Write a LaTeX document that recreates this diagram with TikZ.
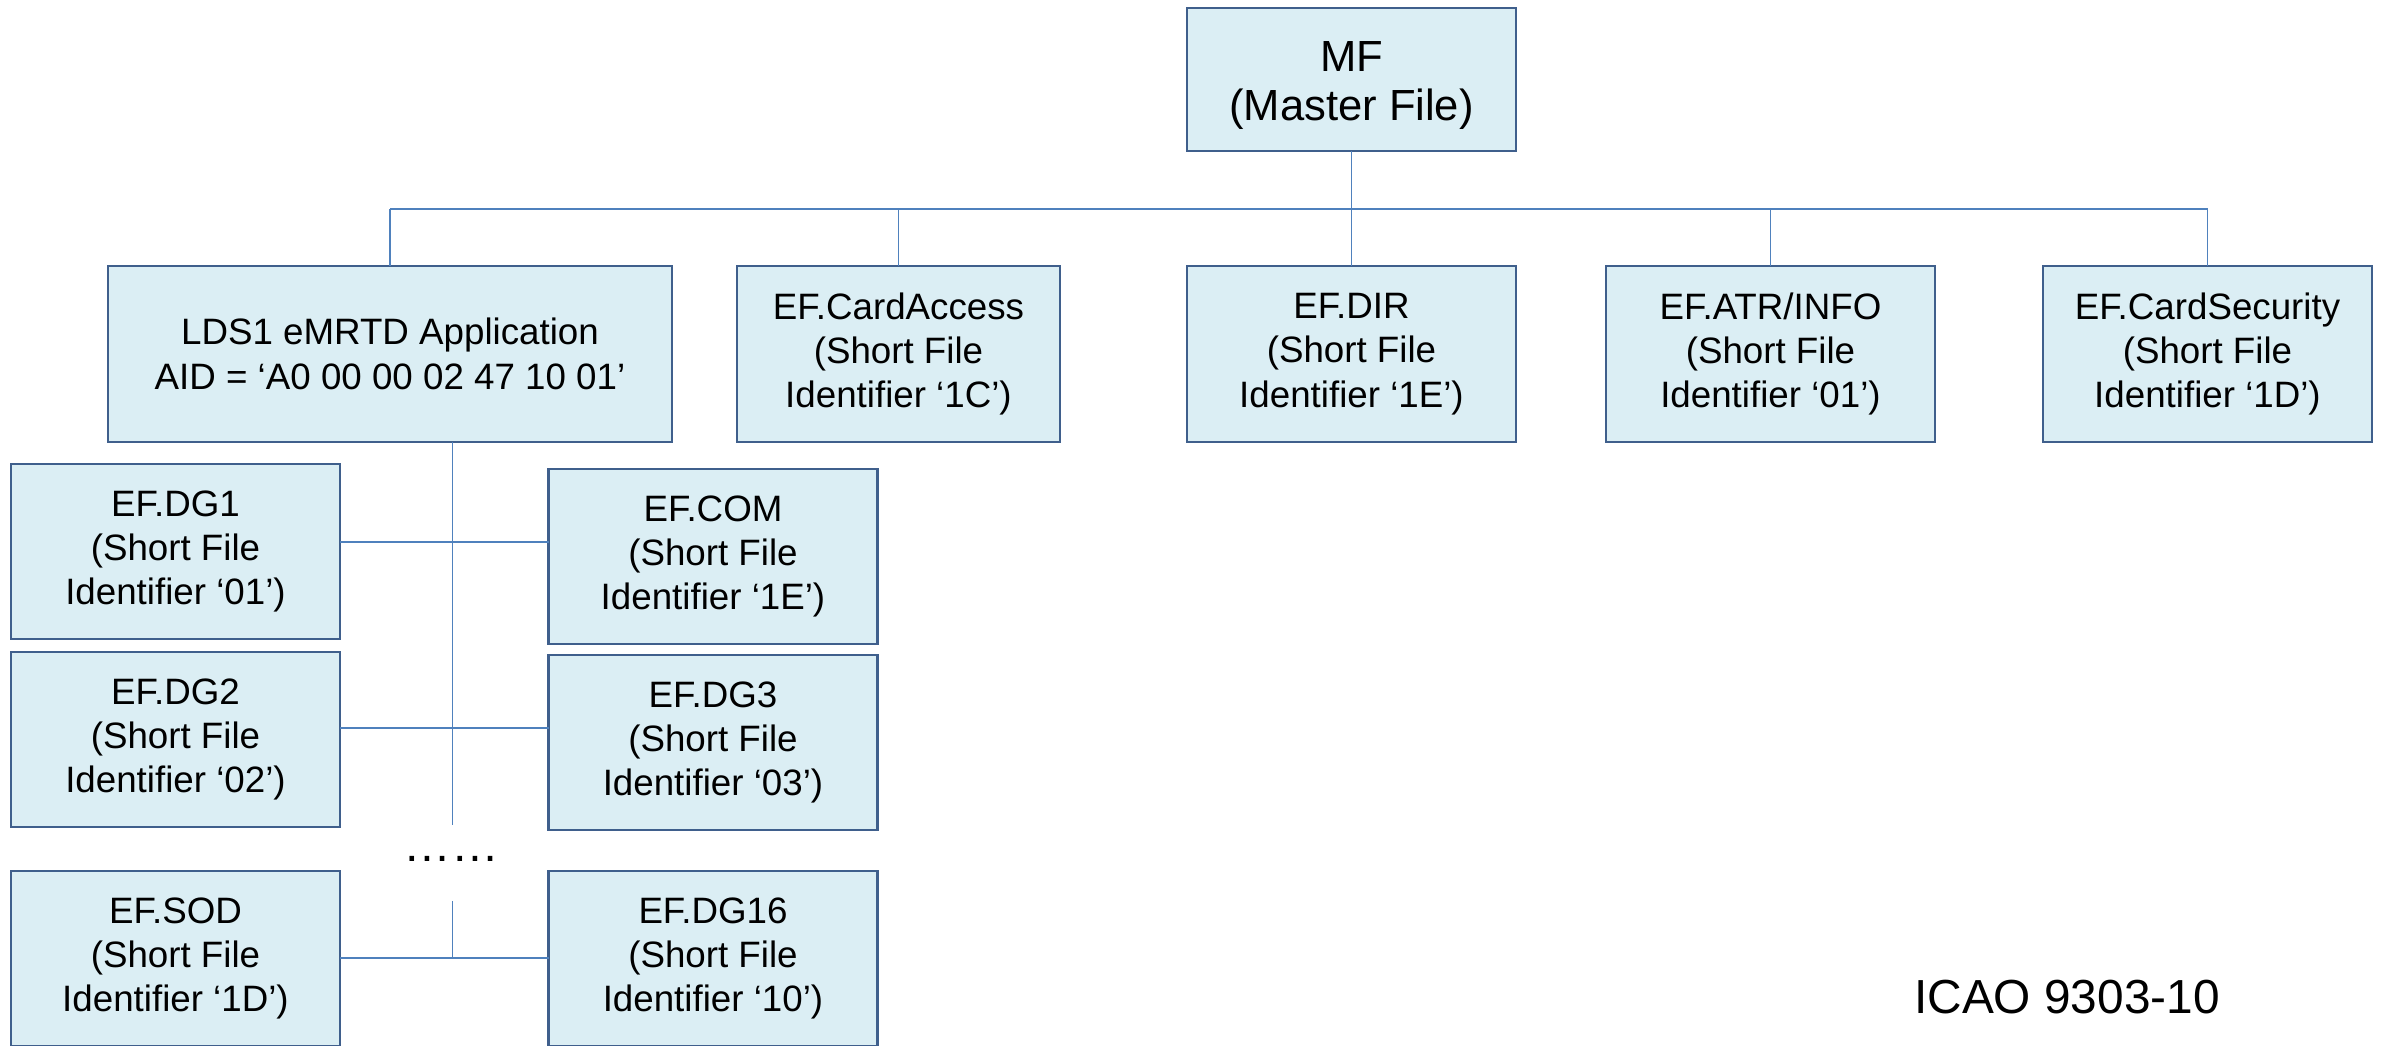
\documentclass[tikz,border=0pt]{standalone}
\usepackage{fontspec}
\setmainfont{Liberation Sans}
\usetikzlibrary{positioning}

\definecolor{boxfill}{HTML}{DBEEF4}
\definecolor{boxline}{HTML}{3F5F8C}
\definecolor{linkline}{HTML}{4F81BD}

\begin{document}
\begin{tikzpicture}[
  file/.style={draw=boxline, line width=0.7pt, fill=boxfill, minimum width=3.29cm, minimum height=1.75cm, align=center, inner sep=0pt, outer sep=0pt, font=\fontsize{10.45}{12.6}\selectfont},
  master/.style={file, minimum height=1.43cm, font=\fontsize{12.4}{13.9}\selectfont},
  top/.style={file, minimum height=1.76cm},
  link/.style={draw=linkline, line width=0.45pt},
  plain/.style={anchor=base, font=\fontsize{13.6}{16}\selectfont}
]
  \useasboundingbox (0,0) rectangle (23.89,10.46);

  \node[master] (mf) at (13.515,9.665) {\rule{0pt}{0.42cm}MF\\(Master File)};

  % application and files under the MF
  \node[top, minimum width=5.64cm] (lds) at (3.90,6.92) {LDS1 eMRTD Application\\AID = ‘A0 00 00 02 47 10 01’};
  \node[top, minimum width=3.23cm, right=0.65cm of lds] (access) {EF.CardAccess\\(Short File\\Identifier ‘1C’)};
  \node[top, below=1.15cm of mf] (dir) {EF.DIR\\(Short File\\Identifier ‘1E’)};
  \node[top, right=0.90cm of dir] (atr) {EF.ATR/INFO\\(Short File\\Identifier ‘01’)};
  \node[top, right=1.08cm of atr] (sec) {EF.CardSecurity\\(Short File\\Identifier ‘1D’)};

  % files of the application
  \node[file] (dg1) at (1.755,4.945) {EF.DG1\\(Short File\\Identifier ‘01’)};
  \node[file, below=0.13cm of dg1] (dg2) {EF.DG2\\(Short File\\Identifier ‘02’)};
  \node[file, below=0.44cm of dg2] (sod) {EF.SOD\\(Short File\\Identifier ‘1D’)};
  \node[file] (com) at (7.13,4.895) {EF.COM\\(Short File\\Identifier ‘1E’)};
  \node[file, below=0.11cm of com] (dg3) {EF.DG3\\(Short File\\Identifier ‘03’)};
  \node[file, below=0.41cm of dg3] (dg16) {EF.DG16\\(Short File\\Identifier ‘10’)};

  \node[plain] (dots) at (4.51,1.845) {……};
  \node[plain] (ref) at (20.67,0.32) {ICAO 9303-10};

  \coordinate (bus) at (0,8.37);
  \coordinate (t1) at (4.525,5.04);
  \coordinate (t2) at (4.525,3.18);
  \coordinate (t3) at (4.525,0.88);
  \coordinate (gapt) at (4.525,2.21);
  \coordinate (gapb) at (4.525,1.45);

  \draw[link] (mf) -- (dir);
  \draw[link] (lds.north |- bus) -- (sec.north |- bus);
  \foreach \f in {lds,access,atr,sec}
    \draw[link] (\f.north) -- (\f.north |- bus);

  \draw[link] (lds.south -| t1) -- (gapt);
  \draw[link] (gapb) -- (t3);
  \draw[link] (t1 -| dg1.east) -- (t1 -| com.west);
  \draw[link] (t2 -| dg2.east) -- (t2 -| dg3.west);
  \draw[link] (t3 -| sod.east) -- (t3 -| dg16.west);
\end{tikzpicture}
\end{document}
